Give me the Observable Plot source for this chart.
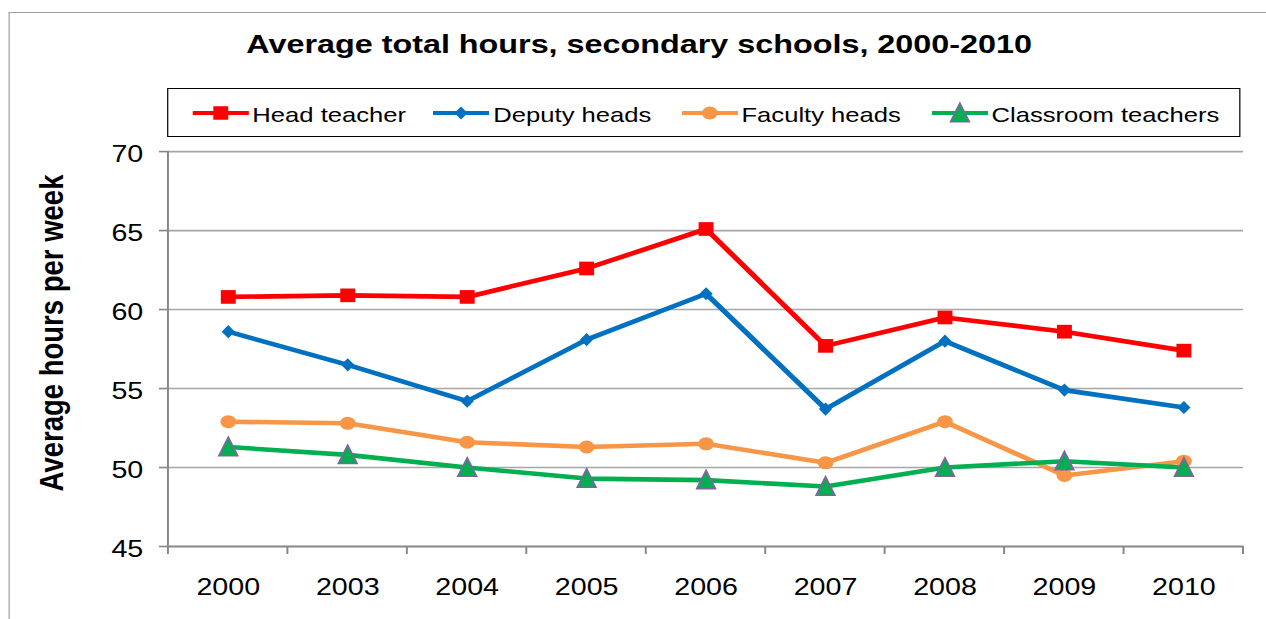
<!DOCTYPE html>
<html><head><meta charset="utf-8">
<script src="https://cdn.jsdelivr.net/npm/d3@7"></script>
<script src="https://cdn.jsdelivr.net/npm/@observablehq/plot@0.6"></script>
<style>
html,body{margin:0;padding:0;background:#fff;overflow:hidden;width:1266px;height:619px;}
#wrap{position:relative;width:1038px;height:619px;transform:scaleX(1.2197);transform-origin:0 0;font-family:"Liberation Sans",Arial,sans-serif;color:#000;}
#frame{position:absolute;left:7.4px;top:12px;width:1100px;height:700px;border-top:1px solid #a0a0a0;border-left:1px solid #a0a0a0;}
#title{position:absolute;left:0;width:1048px;top:31px;text-align:center;font-weight:bold;font-size:26.5px;line-height:26px;white-space:nowrap;}
#legend{position:absolute;left:136.9px;top:88px;width:878px;height:47px;border:1.3px solid #000;background:#fff;}
.item{position:absolute;top:2px;height:47px;display:flex;align-items:center;white-space:nowrap;}
.item span{font-size:21px;line-height:21px;margin-left:3px;}
#ylabel{position:absolute;left:42px;top:333px;width:400px;text-align:center;font-weight:bold;font-size:27.5px;line-height:27px;transform:translate(-50%,-50%) rotate(-90deg);white-space:nowrap;}
#chart{position:absolute;left:0;top:140px;}
</style></head>
<body>
<div id="wrap">
  <div id="frame"></div>
  <div id="title"></div>
  <div id="legend"></div>
  <div id="ylabel"></div>
  <div id="chart"></div>
</div>
<script>
// ---- data ----
const titleText = "Average total hours, secondary schools, 2000-2010";
const yLabel = "Average hours per week";
const categories = ["2000","2003","2004","2005","2006","2007","2008","2009","2010"];
const seriesNames = ["Head teacher","Deputy heads","Faculty heads","Classroom teachers"];
const headTeacher = [60.8, 60.9, 60.8, 62.6, 65.1, 57.7, 59.5, 58.6, 57.4];
const deputyHeads = [58.6, 56.5, 54.2, 58.1, 61.0, 53.7, 58.0, 54.9, 53.8];
const facultyHeads = [52.9, 52.8, 51.6, 51.3, 51.5, 50.3, 52.9, 49.5, 50.4];
const classroomTeachers = [51.3, 50.8, 50.0, 49.3, 49.2, 48.8, 50.0, 50.4, 50.0];
const yTicks = [45, 50, 55, 60, 65, 70];
const seriesColors = ["#ff0000", "#0070c0", "#f79646", "#00b050"];

// ---- symbols ----
const squareSym = {draw(c, size){ const r = Math.sqrt(size/Math.PI); c.moveTo(-0.85*r,-0.95*r); c.lineTo(0.85*r,-0.95*r); c.lineTo(0.85*r,0.95*r); c.lineTo(-0.85*r,0.95*r); c.closePath(); }};
const diamondSym = {draw(c, size){ const r = Math.sqrt(size/Math.PI); c.moveTo(0,-r); c.lineTo(0.82*r,0); c.lineTo(0,r); c.lineTo(-0.82*r,0); c.closePath(); }};
const triSym = {draw(c, size){ const r = Math.sqrt(size/Math.PI); c.moveTo(0,-0.95*r); c.lineTo(0.75*r,0.85*r); c.lineTo(-0.75*r,0.85*r); c.closePath(); }};
const seriesValues = [headTeacher, deputyHeads, facultyHeads, classroomTeachers];
const markerSpec = [
  {symbol: squareSym, r: 7.2, stroke: "none", fill: seriesColors[0]},
  {symbol: diamondSym, r: 6.6, stroke: "none", fill: seriesColors[1]},
  {symbol: "circle", r: 6.5, stroke: "none", fill: seriesColors[2]},
  {symbol: triSym, r: 10.2, stroke: "#8064a2", fill: seriesColors[3]}
];

const rows = [];
seriesNames.forEach((name, s) => categories.forEach((year, i) => rows.push({name, year, value: seriesValues[s][i]})));

document.getElementById("title").textContent = titleText;
document.getElementById("ylabel").textContent = yLabel;

// ---- legend ----
const legendLefts = [20, 217.6, 421, 626];
const legend = document.getElementById("legend");
seriesNames.forEach((name, s) => {
  const item = document.createElement("div");
  item.className = "item";
  item.style.left = legendLefts[s] + "px";
  const svg = d3.create("svg").attr("width", 46).attr("height", 24).style("margin-top", "-4px");
  svg.append("line").attr("x1", 1).attr("x2", 45).attr("y1", 12).attr("y2", 12)
    .attr("stroke", seriesColors[s]).attr("stroke-width", 4.2).attr("stroke-linecap", "round");
  const m = markerSpec[s];
  const sym = m.symbol === "circle" ? d3.symbolCircle : m.symbol;
  svg.append("path").attr("transform", "translate(23,12)")
    .attr("d", d3.symbol(sym, Math.PI * m.r * m.r)())
    .attr("fill", m.fill).attr("stroke", m.stroke).attr("stroke-width", 1.5);
  item.appendChild(svg.node());
  const span = document.createElement("span");
  span.textContent = name;
  item.appendChild(span);
  legend.appendChild(item);
});

// ---- chart ----
const marks = [
  Plot.gridY(yTicks.filter(d => d > 45), {stroke: "#a6a6a6", strokeOpacity: 1, strokeWidth: 1.6}),
  Plot.ruleY([45], {stroke: "#868686", strokeWidth: 2}),
  Plot.axisY(yTicks, {tickSize: 7.4, tickFormat: () => "", stroke: "#868686", strokeWidth: 1.6, label: null}),
  Plot.axisY(yTicks, {tickSize: 0, tickPadding: 20.7, dy: 3, fontSize: 23.5, fill: "#000", label: null}),
  Plot.axisX({tickSize: 0, tickPadding: 32, fontSize: 23.5, fill: "#000", label: null}),
  Plot.line(rows, {x: "year", y: "value", z: "name", stroke: "name", strokeWidth: 4.6, strokeLinejoin: "round"})
];
seriesNames.forEach((name, s) => {
  const m = markerSpec[s];
  marks.push(Plot.dot(rows.filter(d => d.name === name), {x: "year", y: "value", symbol: () => name, r: m.r, fill: m.fill, stroke: m.stroke, strokeWidth: 1.5}));
});

const chart = Plot.plot({
  width: 1038,
  height: 479,
  marginTop: 11.1,
  marginBottom: 73,
  marginLeft: 137.7,
  marginRight: 18.9,
  style: {fontFamily: "Liberation Sans, Arial, sans-serif", fontSize: "23.5px", color: "#000", background: "transparent", overflow: "visible"},
  x: {type: "point", domain: categories, padding: 0.5, round: false, label: null},
  y: {domain: [45, 70], label: null},
  color: {domain: seriesNames, range: seriesColors},
  symbol: {domain: seriesNames, range: markerSpec.map(m => m.symbol)},
  marks
});
document.getElementById("chart").appendChild(chart);

// axis line and category boundary ticks, positioned with Plot's own scales
const xs = chart.scale("x"), ys = chart.scale("y");
const step = xs.apply(categories[1]) - xs.apply(categories[0]);
const x0 = xs.apply(categories[0]) - step / 2;
const yBase = ys.apply(45), yTop = ys.apply(70);
const g = d3.select(chart).append("g").attr("stroke", "#868686").attr("stroke-width", 1.6);
g.append("line").attr("x1", x0).attr("x2", x0).attr("y1", yTop).attr("y2", yBase + 8);
for (let i = 1; i <= categories.length; i++) {
  const x = x0 + i * step;
  g.append("line").attr("x1", x).attr("x2", x).attr("y1", yBase).attr("y2", yBase + 8);
}
</script>
</body></html>
